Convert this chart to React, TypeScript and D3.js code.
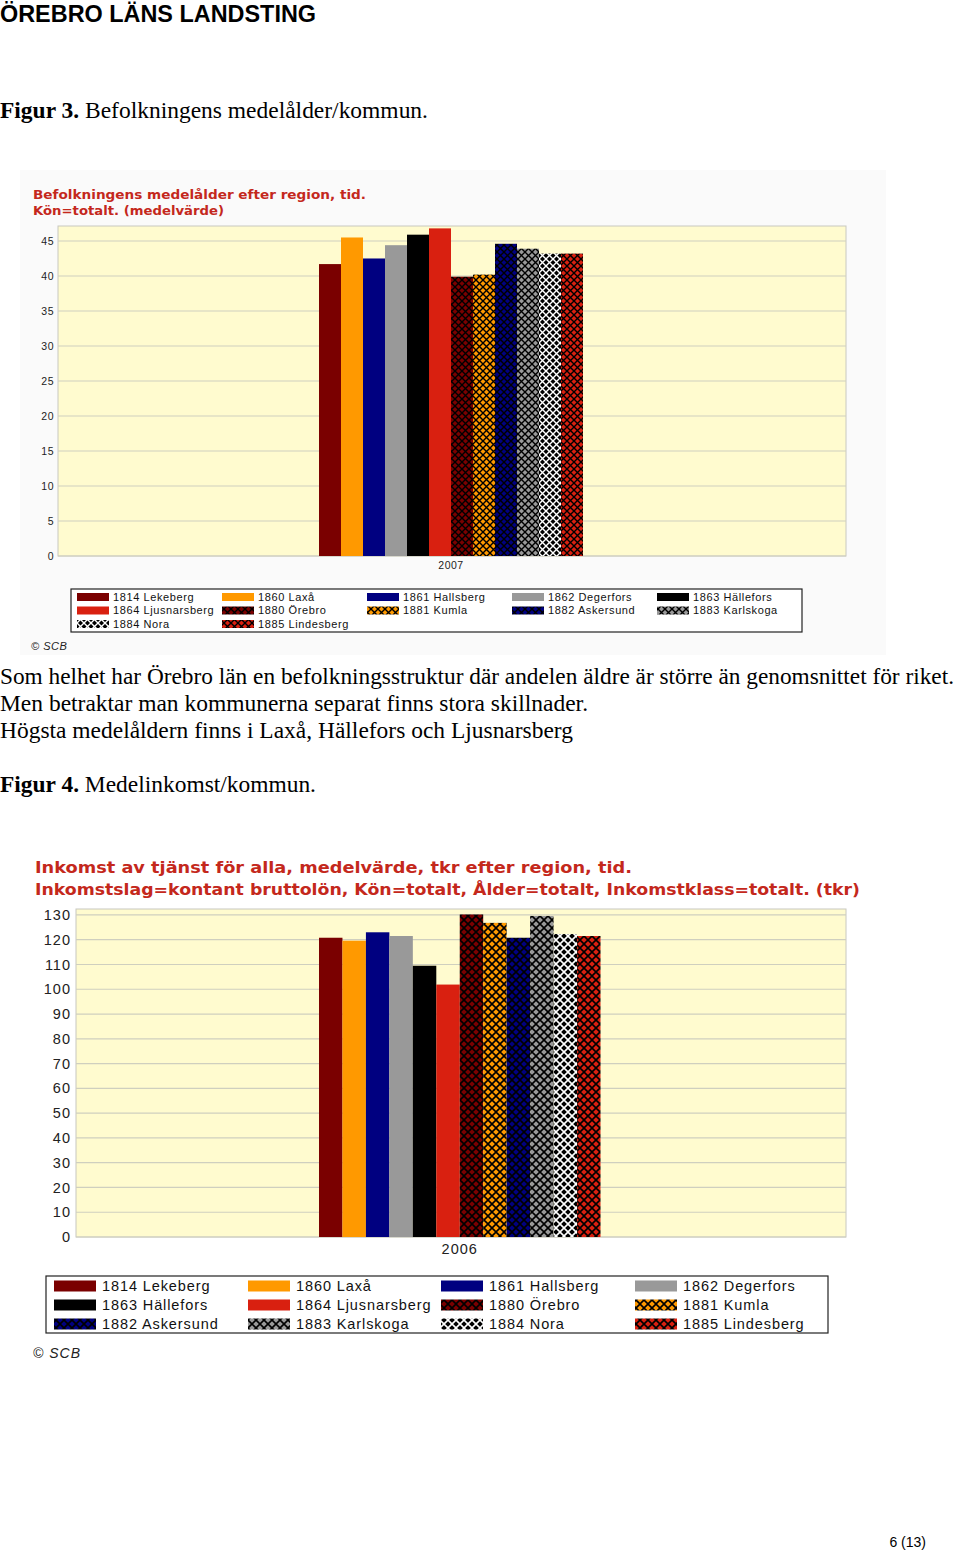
import React from "react";
import * as d3 from "d3";

const municipalities = [
  "1814 Lekeberg", "1860 Laxå", "1861 Hallsberg", "1862 Degerfors", "1863 Hällefors", "1864 Ljusnarsberg",
  "1880 Örebro", "1881 Kumla", "1882 Askersund", "1883 Karlskoga", "1884 Nora", "1885 Lindesberg",
];
const baseColors = ["#7a0000", "#ff9900", "#000080", "#999999", "#000000", "#d92010",
  "#7a0000", "#ff9900", "#000080", "#999999", "#000000", "#d92010"];
const hatched = [false, false, false, false, false, false, true, true, true, true, true, true];
const hatchColors = ["#000", "#000", "#000", "#000", "#000", "#000", "#000", "#000", "#000", "#000", "#fff", "#000"];

const medelalder2007 = [41.7, 45.5, 42.5, 44.4, 45.9, 46.8, 39.9, 40.2, 44.6, 43.9, 43.2, 43.2];
const ageTicks = [0, 5, 10, 15, 20, 25, 30, 35, 40, 45];
const inkomst2006 = [120.8, 119.6, 123.0, 121.5, 109.5, 101.9, 130.2, 126.8, 120.8, 129.6, 122.3, 121.5];
const incomeTicks = [0, 10, 20, 30, 40, 50, 60, 70, 80, 90, 100, 110, 120, 130];

const legend1Order = municipalities; // 5 columns row-major
const legend2Order = municipalities; // 4 columns row-major

const RED = "#c4281c";
const SANS = "'DejaVu Sans', Verdana, sans-serif";
const ARIAL = "'Liberation Sans', Arial, sans-serif";
const SERIF = "'Liberation Serif', 'Times New Roman', serif";

function fillFor(i: number, prefix: string) {
  return hatched[i] ? `url(#${prefix}-pat-${i})` : baseColors[i];
}

function Patterns({ prefix, size }: { prefix: string; size: number }) {
  return (
    <>
      {municipalities.map((m, i) =>
        hatched[i] ? (
          <pattern key={m} id={`${prefix}-pat-${i}`} patternUnits="userSpaceOnUse" width={size} height={size}>
            <rect width={size} height={size} fill={baseColors[i]} />
            <path d={`M0,0L${size},${size}M${size},0L0,${size}`} stroke={hatchColors[i]} strokeWidth={size / 5} />
          </pattern>
        ) : null
      )}
    </>
  );
}

type ChartProps = {
  prefix: string;
  values: number[];
  ticks: number[];
  yMax: number;
  plot: { x0: number; x1: number; y0: number; y1: number };
  bars: { x0: number; x1: number };
  tickFont: number;
  tickSpacing: number;
  tickX: number;
  year: string;
  yearY: number;
};

function BarChart(p: ChartProps) {
  const y = d3.scaleLinear().domain([0, p.yMax]).range([p.plot.y1, p.plot.y0]);
  const x = d3.scaleBand<string>().domain(municipalities).range([p.bars.x0, p.bars.x1]).padding(0);
  return (
    <g>
      <rect x={p.plot.x0} y={p.plot.y0} width={p.plot.x1 - p.plot.x0} height={p.plot.y1 - p.plot.y0} fill="#fffbcf" stroke="#c8c8c0" strokeWidth={1} />
      {p.ticks.map((t) => (
        <g key={t}>
          <line x1={p.plot.x0} x2={p.plot.x1} y1={y(t)} y2={y(t)} stroke="#cfcfbf" strokeWidth={1.2} />
          <text x={p.tickX} y={y(t)} dy="0.35em" textAnchor="end" fontFamily={ARIAL} fontSize={p.tickFont} letterSpacing={p.tickSpacing} fill="#222">{t}</text>
        </g>
      ))}
      {municipalities.map((m, i) => (
        <rect key={m} x={x(m)!} y={y(p.values[i])} width={x.bandwidth()} height={y(0) - y(p.values[i])} fill={fillFor(i, p.prefix)} />
      ))}
      <text x={(p.bars.x0 + p.bars.x1) / 2} y={p.yearY} textAnchor="middle" fontFamily={ARIAL} fontSize={p.tickFont} letterSpacing={p.tickSpacing} fill="#222">{p.year}</text>
    </g>
  );
}

type LegendProps = {
  prefix: string;
  order: string[];
  cols: number;
  box: { x: number; y: number; w: number; h: number };
  colX: number[];
  rowY: number[];
  sw: number;
  sh: number;
  textGap: number;
  font: number;
  spacing: number;
};

function Legend(p: LegendProps) {
  return (
    <g>
      <rect x={p.box.x} y={p.box.y} width={p.box.w} height={p.box.h} fill="#fff" stroke="#222" strokeWidth={1.2} />
      {p.order.map((m, k) => {
        const i = municipalities.indexOf(m);
        const c = k % p.cols;
        const r = Math.floor(k / p.cols);
        const cx = p.colX[c];
        const cy = p.rowY[r];
        return (
          <g key={m}>
            <rect x={cx} y={cy - p.sh / 2} width={p.sw} height={p.sh} fill={fillFor(i, p.prefix)} />
            <text x={cx + p.sw + p.textGap} y={cy} dy="0.36em" fontFamily={ARIAL} fontSize={p.font} letterSpacing={p.spacing} fill="#111">{m}</text>
          </g>
        );
      })}
    </g>
  );
}

export default function App() {
  return (
    <svg width={960} height={1553} style={{ position: "absolute", left: 0, top: 0, background: "#fff" }}>
      <defs>
        <Patterns prefix="c1" size={7} />
        <Patterns prefix="c2" size={8} />
      </defs>
      <rect width={960} height={1553} fill="#fff" />
      <text x={0} y={22} fontFamily={ARIAL} fontWeight="bold" fontSize={23} fill="#000" textLength={316} lengthAdjust="spacingAndGlyphs">ÖREBRO LÄNS LANDSTING</text>
      <text x={0} y={118} fontFamily={SERIF} fontSize={23.5} fill="#000" textLength={428} lengthAdjust="spacingAndGlyphs">
        <tspan fontWeight="bold">Figur 3.</tspan> Befolkningens medelålder/kommun.
      </text>

      {/* Chart 1 */}
      <rect x={20} y={170} width={866} height={485} fill="#fafafa" />
      <text x={33} y={199} fontFamily={SANS} fontWeight="bold" fontSize={12.5} fill={RED} textLength={333} lengthAdjust="spacingAndGlyphs">Befolkningens medelålder efter region, tid.</text>
      <text x={33} y={215} fontFamily={SANS} fontWeight="bold" fontSize={12.5} fill={RED} textLength={191} lengthAdjust="spacingAndGlyphs">Kön=totalt. (medelvärde)</text>
      <BarChart prefix="c1" values={medelalder2007} ticks={ageTicks} yMax={47.14}
        plot={{ x0: 58, x1: 846, y0: 226, y1: 556 }} bars={{ x0: 319, x1: 583 }}
        tickFont={10.5} tickSpacing={0.5} tickX={54} year="2007" yearY={569} />
      <Legend prefix="c1" order={legend1Order} cols={5} box={{ x: 71, y: 589, w: 731, h: 43 }}
        colX={[77, 222, 367, 512, 657]} rowY={[597, 610.5, 624]} sw={32} sh={8} textGap={4} font={11} spacing={0.6} />
      <text x={31} y={650} fontFamily={ARIAL} fontStyle="italic" fontSize={11} letterSpacing={0.5} fill="#222">© SCB</text>

      <text x={0} y={684} fontFamily={SERIF} fontSize={22.5} fill="#000" textLength={954} lengthAdjust="spacingAndGlyphs">Som helhet har Örebro län en befolkningsstruktur där andelen äldre är större än genomsnittet för riket.</text>
      <text x={0} y={711} fontFamily={SERIF} fontSize={23.5} fill="#000" textLength={588} lengthAdjust="spacingAndGlyphs">Men betraktar man kommunerna separat finns stora skillnader.</text>
      <text x={0} y={738} fontFamily={SERIF} fontSize={23.5} fill="#000" textLength={573} lengthAdjust="spacingAndGlyphs">Högsta medelåldern finns i Laxå, Hällefors och Ljusnarsberg</text>
      <text x={0} y={792} fontFamily={SERIF} fontSize={23.5} fill="#000" textLength={316} lengthAdjust="spacingAndGlyphs">
        <tspan fontWeight="bold">Figur 4.</tspan> Medelinkomst/kommun.
      </text>

      {/* Chart 2 */}
      <text x={35} y={873} fontFamily={SANS} fontWeight="bold" fontSize={16} fill={RED} textLength={597} lengthAdjust="spacingAndGlyphs">Inkomst av tjänst för alla, medelvärde, tkr efter region, tid.</text>
      <text x={35} y={895} fontFamily={SANS} fontWeight="bold" fontSize={16} fill={RED} textLength={825} lengthAdjust="spacingAndGlyphs">Inkomstslag=kontant bruttolön, Kön=totalt, Ålder=totalt, Inkomstklass=totalt. (tkr)</text>
      <BarChart prefix="c2" values={inkomst2006} ticks={incomeTicks} yMax={132.4}
        plot={{ x0: 76, x1: 846, y0: 909, y1: 1237 }} bars={{ x0: 319, x1: 600.5 }}
        tickFont={14.5} tickSpacing={1} tickX={71} year="2006" yearY={1254} />
      <Legend prefix="c2" order={legend2Order} cols={4} box={{ x: 46, y: 1276, w: 782, h: 57 }}
        colX={[54, 248, 441, 635]} rowY={[1286, 1305, 1324]} sw={42} sh={11} textGap={6} font={14.5} spacing={0.9} />
      <text x={33} y={1358} fontFamily={ARIAL} fontStyle="italic" fontSize={14} letterSpacing={1} fill="#222">© SCB</text>

      <text x={926} y={1547} textAnchor="end" fontFamily={ARIAL} fontSize={14} fill="#000">6 (13)</text>
    </svg>
  );
}
